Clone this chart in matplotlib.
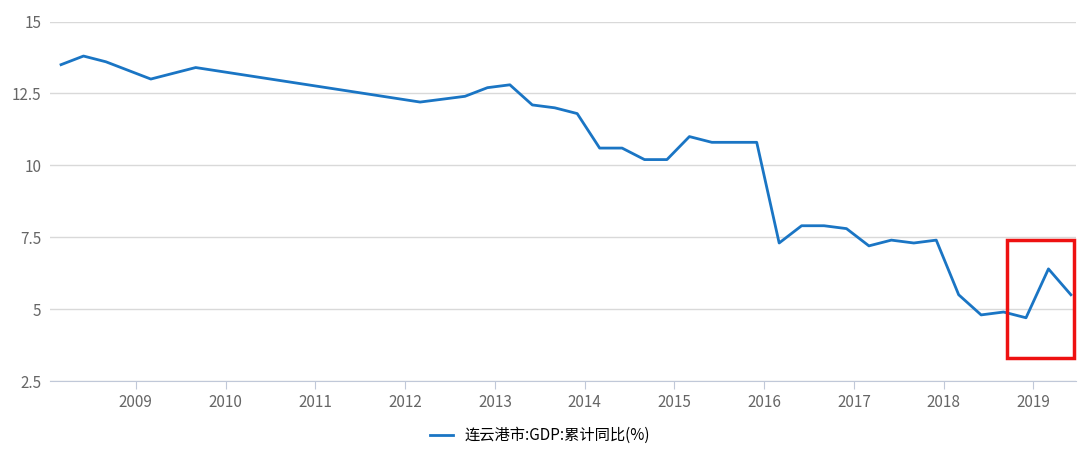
import matplotlib
matplotlib.use("Agg")
import matplotlib.pyplot as plt
from matplotlib.patches import Rectangle

plt.rcParams['font.family'] = ['Noto Sans CJK SC', 'DejaVu Sans']

years = [2008,2008,2008,2009,2009,2012,2012,2012,2013,2013,2013,2013,2014,2014,2014,2014,
         2015,2015,2015,2015,2016,2016,2016,2016,2017,2017,2017,2017,2018,2018,2018,2018,2019,2019]
months = [3,6,9,3,9,3,9,12,3,6,9,12,3,6,9,12,3,6,9,12,3,6,9,12,3,6,9,12,3,6,9,12,3,6]
values = [13.5,13.8,13.6,13.0,13.4,12.2,12.4,12.7,12.8,12.1,12.0,11.8,10.6,10.6,10.2,10.2,
          11.0,10.8,10.8,10.8,7.3,7.9,7.9,7.8,7.2,7.4,7.3,7.4,5.5,4.8,4.9,4.7,6.4,5.5]
series_name = "连云港市:GDP:累计同比(%)"
yticks = [2.5, 5, 7.5, 10, 12.5, 15]
ytick_labels = ["2.5", "5", "7.5", "10", "12.5", "15"]
xtick_years = list(range(2009, 2020))

x = [y + (m - 1) / 12 for y, m in zip(years, months)]

fig = plt.figure(figsize=(10.8, 4.58), dpi=100)
ax = fig.add_axes([0.046, 0.168, 0.95, 0.785])
ax.plot(x, values, color="#1a75c4", lw=2, label=series_name)
ax.set_xlim(2008.04, 2019.47)
ax.set_ylim(2.5, 15)
ax.set_yticks(yticks, ytick_labels)
ax.set_xticks(xtick_years, [str(v) for v in xtick_years])
ax.grid(axis='y', color="#d9d9d9", lw=1)
ax.set_axisbelow(True)
for s in ['top', 'right', 'left']:
    ax.spines[s].set_visible(False)
ax.spines['bottom'].set_color("#c0c8d8")
ax.tick_params(axis='y', length=0, labelsize=11, labelcolor="#666666", pad=6)
ax.tick_params(axis='x', length=6, color="#c0c8d8", labelsize=11, labelcolor="#666666")
ax.add_patch(Rectangle((2018.7, 3.3), 0.755, 4.1, fill=False, ec="#ee1111", lw=2.5,
                       clip_on=False, zorder=5))
fig.legend(loc="lower center", bbox_to_anchor=(0.5, 0.0), frameon=False, fontsize=11,
           handlelength=1.5)
fig.savefig("out.png")
